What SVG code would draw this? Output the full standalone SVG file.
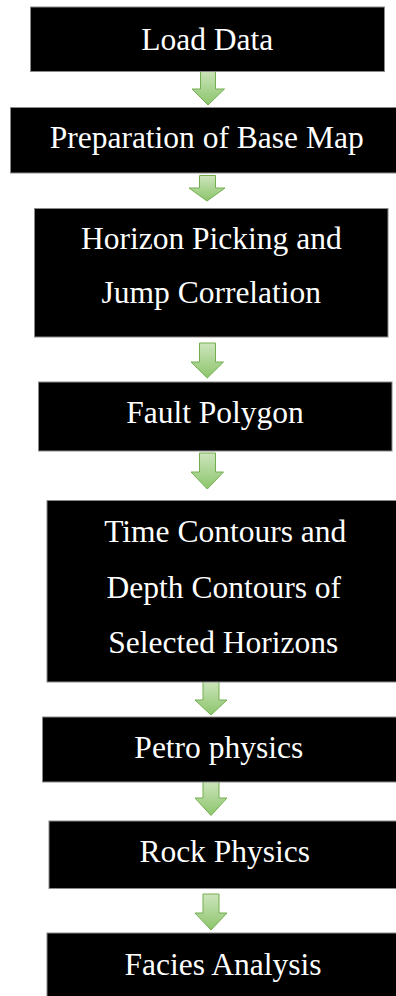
<svg xmlns="http://www.w3.org/2000/svg" width="396" height="996" viewBox="0 0 396 996">
  <defs>
    <linearGradient id="arrowFill" x1="0" y1="0" x2="0" y2="1">
      <stop offset="0" stop-color="#cde5bd"/>
      <stop offset="1" stop-color="#8cc56b"/>
    </linearGradient>
    <style>
      .box { fill: #000000; stroke: #8a8a8a; stroke-width: 1; }
      .label { fill: #ffffff; font-family: "Liberation Serif", "Times New Roman", serif; font-size: 31.5px; text-anchor: middle; }
      .arrow { fill: url(#arrowFill); stroke: #72ae4f; stroke-width: 1; stroke-linejoin: miter; }
    </style>
  </defs>

  <rect width="396" height="996" fill="#ffffff"/>

  <!-- block arrows between steps -->
  <g id="connectors">
    <path class="arrow" d="M200.5,70 H215.5 V89 H224.5 L208,105 L192,89 H200.5 Z"/>
    <path class="arrow" d="M199.5,175.5 H215.5 V188 H225 L207,201 L189,188 H199.5 Z"/>
    <path class="arrow" d="M199.5,343 H215.5 V362 H223.5 L207.3,378 L191,362 H199.5 Z"/>
    <path class="arrow" d="M199.5,453 H215.5 V472 H223.5 L207.3,489 L191,472 H199.5 Z"/>
    <path class="arrow" d="M203,681 H219 V700 H227 L211,715 L195,700 H203 Z"/>
    <path class="arrow" d="M203,781 H219 V798 H227 L211,815.5 L195,798 H203 Z"/>
    <path class="arrow" d="M203,894 H219 V913 H227 L211,930 L195,913 H203 Z"/>
  </g>

  <g id="load-data">
    <rect class="box" x="30.5" y="7" width="354" height="64.5"/>
    <text class="label" x="207.2" y="50">Load Data</text>
  </g>

  <g id="base-map">
    <rect class="box" x="10.5" y="107.5" width="386" height="65.5"/>
    <text class="label" x="206.7" y="148.3">Preparation of Base Map</text>
  </g>

  <g id="horizon-picking">
    <rect class="box" x="34.5" y="208.5" width="353.5" height="128.5"/>
    <text class="label" x="211.3" y="249.3">Horizon Picking and</text>
    <text class="label" x="211.3" y="303.3">Jump Correlation</text>
  </g>

  <g id="fault-polygon">
    <rect class="box" x="38.5" y="382" width="353.5" height="69"/>
    <text class="label" x="215" y="423.3">Fault Polygon</text>
  </g>

  <g id="contours">
    <rect class="box" x="47" y="500.5" width="350" height="181.5"/>
    <text class="label" x="225.3" y="541.7">Time Contours and</text>
    <text class="label" x="223.8" y="597.7">Depth Contours of</text>
    <text class="label" x="223.3" y="652.7">Selected Horizons</text>
  </g>

  <g id="petro-physics">
    <rect class="box" x="42.5" y="717" width="354.5" height="65"/>
    <text class="label" x="218.8" y="758.3">Petro physics</text>
  </g>

  <g id="rock-physics">
    <rect class="box" x="49" y="821" width="348" height="67.5"/>
    <text class="label" x="224.7" y="862.3">Rock Physics</text>
  </g>

  <g id="facies-analysis">
    <rect class="box" x="47" y="933" width="350" height="64"/>
    <text class="label" x="223" y="975">Facies Analysis</text>
  </g>
</svg>
